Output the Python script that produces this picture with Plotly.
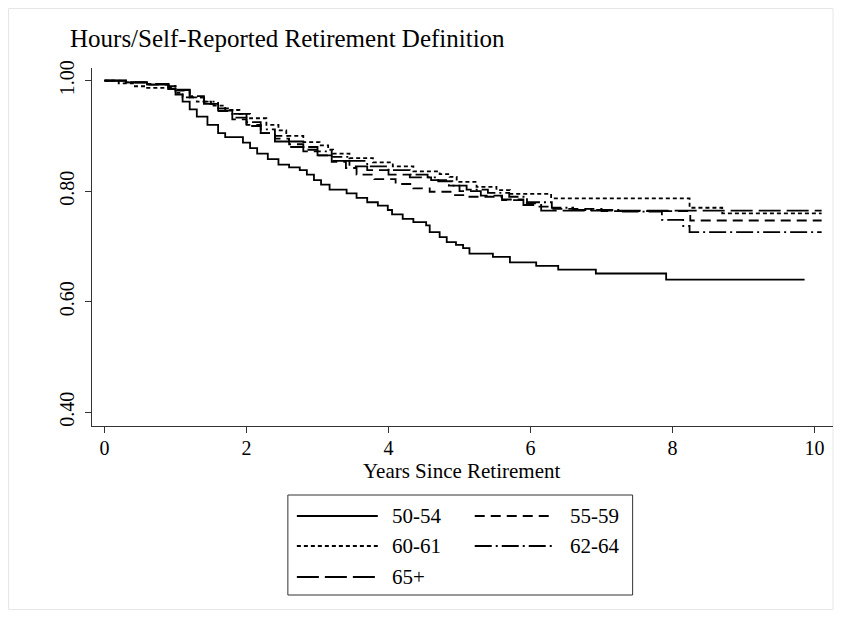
import plotly.graph_objects as go

# ---- data (Kaplan-Meier style step curves) ----
t_50_54 = [0, 0.3, 0.6, 0.9, 1.0, 1.1, 1.2, 1.3, 1.45, 1.6, 1.7, 1.95, 2.05, 2.15, 2.3, 2.45, 2.6, 2.75, 2.85,
           2.95, 3.05, 3.17, 3.41, 3.55, 3.7, 3.85, 3.99, 4.05, 4.2, 4.35, 4.53, 4.58, 4.72, 4.82, 4.95, 5.05,
           5.14, 5.47, 5.71, 6.08, 6.39, 6.92, 7.91, 9.86]
s_50_54 = [1.0, 0.997, 0.993, 0.985, 0.975, 0.962, 0.948, 0.935, 0.92, 0.905, 0.898, 0.888, 0.878, 0.868, 0.858,
           0.848, 0.843, 0.838, 0.83, 0.82, 0.812, 0.803, 0.796, 0.788, 0.78, 0.774, 0.766, 0.758, 0.75, 0.744,
           0.738, 0.726, 0.717, 0.708, 0.703, 0.697, 0.687, 0.681, 0.671, 0.665, 0.658, 0.651, 0.64, 0.64]

t_55_59 = [0, 0.3, 0.6, 0.9, 1.0, 1.2, 1.4, 1.6, 1.8, 2.0, 2.2, 2.4, 2.6, 2.8, 3.0, 3.2, 3.4, 3.55, 3.8, 4.1,
           4.35, 4.58, 4.9, 5.14, 5.6, 5.9, 6.1, 6.3, 7.0, 8.25, 10.1]
s_55_59 = [1.0, 0.997, 0.993, 0.988, 0.982, 0.97, 0.958, 0.945, 0.93, 0.918, 0.905, 0.895, 0.885, 0.875, 0.865,
           0.853, 0.842, 0.83, 0.822, 0.813, 0.805, 0.799, 0.793, 0.79, 0.784, 0.778, 0.772, 0.768, 0.764, 0.747,
           0.747]

t_60_61 = [0, 0.2, 0.4, 0.6, 0.9, 1.0, 1.1, 1.3, 1.5, 1.7, 1.9, 2.05, 2.28, 2.45, 2.56, 2.8, 3.03, 3.15, 3.22,
           3.45, 3.78, 4.06, 4.35, 4.72, 4.86, 4.96, 5.24, 5.52, 5.71, 6.29, 8.24, 8.7, 10.1]
s_60_61 = [1.0, 0.995, 0.99, 0.987, 0.985, 0.978, 0.97, 0.962, 0.955, 0.947, 0.94, 0.932, 0.92, 0.91, 0.9,
           0.889, 0.883, 0.875, 0.868, 0.86, 0.852, 0.845, 0.836, 0.831, 0.826, 0.817, 0.808, 0.802, 0.795,
           0.787, 0.77, 0.76, 0.76]

t_62_64 = [0, 0.3, 0.6, 0.9, 1.0, 1.2, 1.4, 1.6, 1.8, 2.0, 2.2, 2.4, 2.6, 2.8, 3.0, 3.2, 3.45, 3.7, 4.0, 4.3,
           4.55, 4.7, 4.9, 5.1, 5.4, 5.7, 5.95, 6.3, 6.6, 7.3, 7.85, 8.15, 8.24, 10.1]
s_62_64 = [1.0, 0.997, 0.994, 0.99, 0.984, 0.972, 0.962, 0.95, 0.94, 0.925, 0.912, 0.9, 0.89, 0.88, 0.872,
           0.862, 0.855, 0.845, 0.838, 0.83, 0.825, 0.818, 0.81, 0.803, 0.797, 0.79, 0.78, 0.77, 0.766, 0.763,
           0.748, 0.737, 0.726, 0.726]

t_65p = [0, 0.3, 0.6, 0.9, 1.0, 1.2, 1.4, 1.6, 1.8, 2.0, 2.2, 2.4, 2.6, 2.8, 3.0, 3.2, 3.45, 3.7, 4.0, 4.3,
         4.6, 4.85, 5.0, 5.3, 5.6, 5.9, 6.15, 10.1]
s_65p = [1.0, 0.997, 0.994, 0.99, 0.983, 0.97, 0.958, 0.946, 0.933, 0.92, 0.905, 0.89, 0.88, 0.872, 0.865,
         0.855, 0.845, 0.838, 0.83, 0.825, 0.82, 0.81, 0.8, 0.792, 0.785, 0.775, 0.765, 0.765]

labels = ["50-54", "55-59", "60-61", "62-64", "65+"]
x_ticks = [0, 2, 4, 6, 8, 10]
y_ticks = [0.4, 0.6, 0.8, 1.0]
y_tick_text = ["0.40", "0.60", "0.80", "1.00"]

title_text = "Hours/Self-Reported Retirement Definition"
x_title = "Years Since Retirement"

series = [(t_50_54, s_50_54), (t_55_59, s_55_59), (t_60_61, s_60_61), (t_62_64, s_62_64), (t_65p, s_65p)]
dashes = ["solid", "10px,6px", "4px,3px", "17px,4px,2px,4px", "22px,6px"]

FONT = "Liberation Serif, Times New Roman, serif"
OFF = 8  # page body margin
W, H = 826, 602
L, R, T, B = 92 - OFF, 833.5 - OFF, 68 - OFF, 426 - OFF

fig = go.Figure()
for (tt, ss), lab, d in zip(series, labels, dashes):
    fig.add_trace(go.Scatter(x=tt, y=ss, mode="lines", name=lab,
                             line=dict(color="black", width=1.8, dash=d, shape="hv"), showlegend=False))

def px(pxv):
    return (pxv - OFF - L) / (R - L)

def py(pyv):
    return (B - (pyv - OFF)) / (B - T)

shapes = []
annotations = []
# outer light frame (figure edge)
shapes.append(dict(type="rect", xref="paper", yref="paper", x0=px(8.5), x1=px(833.5),
                   y0=py(609.5), y1=py(8.5), line=dict(color="#e6e6e6", width=1), layer="below"))
# legend box
shapes.append(dict(type="rect", xref="paper", yref="paper", x0=px(288), x1=px(633),
                   y0=py(595), y1=py(495), line=dict(color="#333333", width=1)))
leg_pos = [(297, 378, 390, 516), (475, 555, 568, 516), (297, 378, 390, 546), (475, 555, 568, 546),
           (297, 378, 390, 577)]
for lab, d, (lx0, lx1, tx, ly) in zip(labels, dashes, leg_pos):
    shapes.append(dict(type="line", xref="paper", yref="paper", x0=px(lx0), x1=px(lx1),
                       y0=py(ly), y1=py(ly), line=dict(color="black", width=1.8, dash=d)))
    annotations.append(dict(text=lab, xref="paper", yref="paper", x=px(tx), y=py(ly),
                            xanchor="left", yanchor="middle", showarrow=False,
                            font=dict(family=FONT, size=21, color="black")))

annotations.append(dict(text=title_text, xref="paper", yref="paper", x=px(68), y=py(39),
                        xanchor="left", yanchor="middle", showarrow=False,
                        font=dict(family=FONT, size=25, color="black")))
annotations.append(dict(text=x_title, xref="paper", yref="paper", x=px(462), y=py(471),
                        xanchor="center", yanchor="middle", showarrow=False,
                        font=dict(family=FONT, size=21, color="black")))

fig.update_layout(
    width=W, height=H,
    margin=dict(l=L, r=W - R, t=T, b=H - B, pad=0),
    paper_bgcolor="white", plot_bgcolor="white",
    font=dict(family=FONT, size=18, color="black"),
    shapes=shapes, annotations=annotations,
    showlegend=False,
)
fig.update_xaxes(range=[-0.176, 10.26], tickvals=x_ticks, ticks="outside", ticklen=6, tickcolor="#333",
                 showline=True, linecolor="#333", linewidth=1, showgrid=False, zeroline=False,
                 ticklabelstandoff=-2,
                 tickfont=dict(family=FONT, size=20, color="black"))
fig.update_yaxes(range=[0.375, 1.023], tickvals=y_ticks, ticktext=y_tick_text, ticks="outside", ticklen=6,
                 tickcolor="#333", showline=True, linecolor="#333", linewidth=1, showgrid=False, zeroline=False,
                 tickangle=-90, ticklabelstandoff=3,
                 tickfont=dict(family=FONT, size=20, color="black"))

fig.write_html("out.html")
